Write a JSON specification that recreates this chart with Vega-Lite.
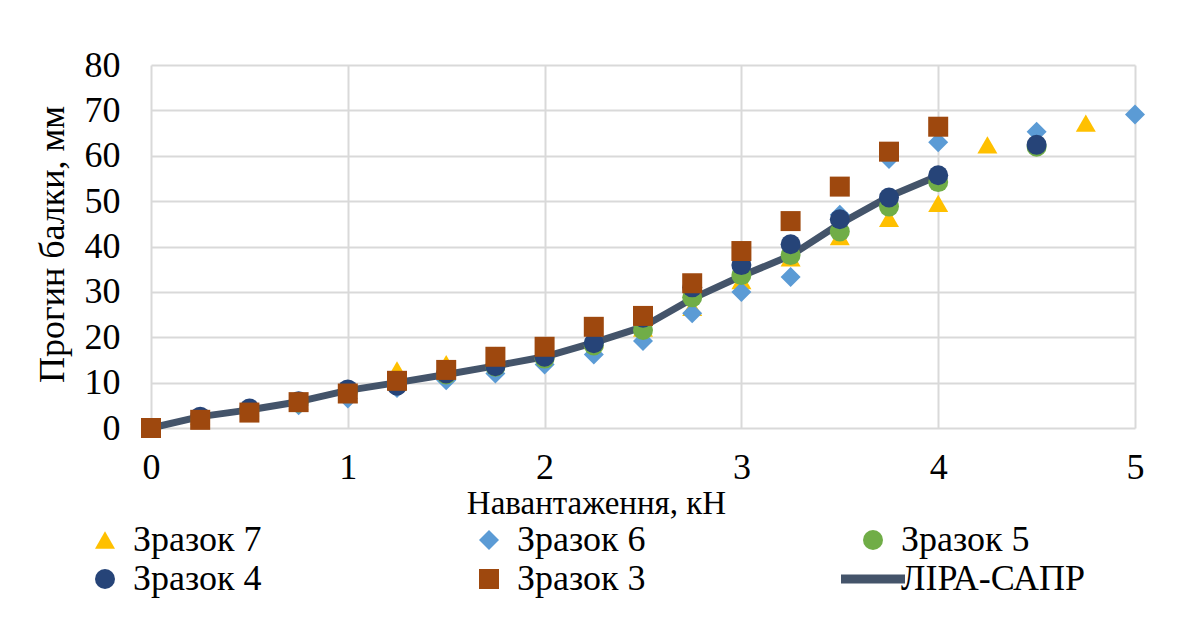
{
  "$schema": "https://vega.github.io/schema/vega-lite/v6.json",
  "width": 984,
  "height": 363,
  "autosize": {"type": "none"},
  "padding": {"left": 151, "top": 65, "right": 64, "bottom": 203},
  "background": "white",
  "config": {
    "view": {"stroke": null},
    "font": "Liberation Serif",
    "axis": {"labelColor": "black", "titleColor": "black", "titleFontWeight": "normal", "gridColor": "#D9D9D9", "gridWidth": 2, "domain": false, "ticks": false, "labelFlush": false}
  },
  "datasets": {
    "pts": [
      {"x": 0, "y": 0, "series": "Зразок 7"},
      {"x": 0.25, "y": 2.6, "series": "Зразок 7"},
      {"x": 0.5, "y": 4.5, "series": "Зразок 7"},
      {"x": 0.75, "y": 6.0, "series": "Зразок 7"},
      {"x": 1, "y": 7.5, "series": "Зразок 7"},
      {"x": 1.25, "y": 12.8, "series": "Зразок 7"},
      {"x": 1.5, "y": 14.2, "series": "Зразок 7"},
      {"x": 1.75, "y": 16.0, "series": "Зразок 7"},
      {"x": 2, "y": 17.0, "series": "Зразок 7"},
      {"x": 2.25, "y": 19.5, "series": "Зразок 7"},
      {"x": 2.5, "y": 22.0, "series": "Зразок 7"},
      {"x": 2.75, "y": 26.6, "series": "Зразок 7"},
      {"x": 3, "y": 32.5, "series": "Зразок 7"},
      {"x": 3.25, "y": 37.5, "series": "Зразок 7"},
      {"x": 3.5, "y": 42.2, "series": "Зразок 7"},
      {"x": 3.75, "y": 46.2, "series": "Зразок 7"},
      {"x": 4, "y": 49.5, "series": "Зразок 7"},
      {"x": 4.25, "y": 62.4, "series": "Зразок 7"},
      {"x": 4.75, "y": 67.2, "series": "Зразок 7"},
      {"x": 0, "y": 0, "series": "Зразок 6"},
      {"x": 0.25, "y": 2.0, "series": "Зразок 6"},
      {"x": 0.5, "y": 3.5, "series": "Зразок 6"},
      {"x": 0.75, "y": 5.0, "series": "Зразок 6"},
      {"x": 1, "y": 6.5, "series": "Зразок 6"},
      {"x": 1.25, "y": 8.8, "series": "Зразок 6"},
      {"x": 1.5, "y": 10.5, "series": "Зразок 6"},
      {"x": 1.75, "y": 12.0, "series": "Зразок 6"},
      {"x": 2, "y": 14.0, "series": "Зразок 6"},
      {"x": 2.25, "y": 16.2, "series": "Зразок 6"},
      {"x": 2.5, "y": 19.2, "series": "Зразок 6"},
      {"x": 2.75, "y": 25.3, "series": "Зразок 6"},
      {"x": 3, "y": 30.0, "series": "Зразок 6"},
      {"x": 3.25, "y": 33.3, "series": "Зразок 6"},
      {"x": 3.5, "y": 47.0, "series": "Зразок 6"},
      {"x": 3.75, "y": 59.3, "series": "Зразок 6"},
      {"x": 4, "y": 63.0, "series": "Зразок 6"},
      {"x": 4.5, "y": 65.3, "series": "Зразок 6"},
      {"x": 5, "y": 69.1, "series": "Зразок 6"},
      {"x": 0, "y": 0, "series": "Зразок 5"},
      {"x": 0.25, "y": 2.2, "series": "Зразок 5"},
      {"x": 0.5, "y": 4.0, "series": "Зразок 5"},
      {"x": 0.75, "y": 5.6, "series": "Зразок 5"},
      {"x": 1, "y": 8.0, "series": "Зразок 5"},
      {"x": 1.25, "y": 9.5, "series": "Зразок 5"},
      {"x": 1.5, "y": 11.8, "series": "Зразок 5"},
      {"x": 1.75, "y": 13.5, "series": "Зразок 5"},
      {"x": 2, "y": 15.3, "series": "Зразок 5"},
      {"x": 2.25, "y": 18.2, "series": "Зразок 5"},
      {"x": 2.5, "y": 21.6, "series": "Зразок 5"},
      {"x": 2.75, "y": 28.8, "series": "Зразок 5"},
      {"x": 3, "y": 33.7, "series": "Зразок 5"},
      {"x": 3.25, "y": 38.1, "series": "Зразок 5"},
      {"x": 3.5, "y": 43.3, "series": "Зразок 5"},
      {"x": 3.75, "y": 48.8, "series": "Зразок 5"},
      {"x": 4, "y": 54.2, "series": "Зразок 5"},
      {"x": 4.5, "y": 62.0, "series": "Зразок 5"},
      {"x": 0, "y": 0, "series": "Зразок 4"},
      {"x": 0.25, "y": 2.5, "series": "Зразок 4"},
      {"x": 0.5, "y": 4.3, "series": "Зразок 4"},
      {"x": 0.75, "y": 5.9, "series": "Зразок 4"},
      {"x": 1, "y": 8.5, "series": "Зразок 4"},
      {"x": 1.25, "y": 9.3, "series": "Зразок 4"},
      {"x": 1.5, "y": 12.0, "series": "Зразок 4"},
      {"x": 1.75, "y": 13.6, "series": "Зразок 4"},
      {"x": 2, "y": 15.7, "series": "Зразок 4"},
      {"x": 2.25, "y": 18.7, "series": "Зразок 4"},
      {"x": 2.5, "y": 24.3, "series": "Зразок 4"},
      {"x": 2.75, "y": 31.0, "series": "Зразок 4"},
      {"x": 3, "y": 35.9, "series": "Зразок 4"},
      {"x": 3.25, "y": 40.5, "series": "Зразок 4"},
      {"x": 3.5, "y": 46.0, "series": "Зразок 4"},
      {"x": 3.75, "y": 50.8, "series": "Зразок 4"},
      {"x": 4, "y": 55.7, "series": "Зразок 4"},
      {"x": 4.5, "y": 62.4, "series": "Зразок 4"},
      {"x": 0, "y": 0, "series": "Зразок 3"},
      {"x": 0.25, "y": 1.8, "series": "Зразок 3"},
      {"x": 0.5, "y": 3.4, "series": "Зразок 3"},
      {"x": 0.75, "y": 5.7, "series": "Зразок 3"},
      {"x": 1, "y": 7.6, "series": "Зразок 3"},
      {"x": 1.25, "y": 10.4, "series": "Зразок 3"},
      {"x": 1.5, "y": 12.8, "series": "Зразок 3"},
      {"x": 1.75, "y": 15.7, "series": "Зразок 3"},
      {"x": 2, "y": 17.9, "series": "Зразок 3"},
      {"x": 2.25, "y": 22.3, "series": "Зразок 3"},
      {"x": 2.5, "y": 24.7, "series": "Зразок 3"},
      {"x": 2.75, "y": 31.9, "series": "Зразок 3"},
      {"x": 3, "y": 39.0, "series": "Зразок 3"},
      {"x": 3.25, "y": 45.6, "series": "Зразок 3"},
      {"x": 3.5, "y": 53.2, "series": "Зразок 3"},
      {"x": 3.75, "y": 60.9, "series": "Зразок 3"},
      {"x": 4, "y": 66.4, "series": "Зразок 3"}
    ],
    "lira": [
      {"x": 0, "y": 0},
      {"x": 0.25, "y": 2.5},
      {"x": 0.5, "y": 4.0},
      {"x": 0.75, "y": 5.8},
      {"x": 1, "y": 8.3},
      {"x": 1.25, "y": 10.0},
      {"x": 1.5, "y": 11.8},
      {"x": 1.75, "y": 13.7},
      {"x": 2, "y": 15.7},
      {"x": 2.25, "y": 18.8},
      {"x": 2.5, "y": 22.3},
      {"x": 2.75, "y": 28.5},
      {"x": 3, "y": 33.5},
      {"x": 3.25, "y": 38.0},
      {"x": 3.5, "y": 45.0},
      {"x": 3.75, "y": 51.0},
      {"x": 4, "y": 55.6}
    ]
  },
  "encoding": {
    "x": {"field": "x", "type": "quantitative",
      "scale": {"domain": [0, 5], "nice": false, "zero": false},
      "axis": {"values": [0, 1, 2, 3, 4, 5], "labelFont": "Liberation Serif", "titleFont": "Liberation Serif", "labelFontSize": 36, "labelPadding": 22, "title": "Навантаження, кН", "titleFontSize": 33, "titleX": 445, "titleY": 75, "titleBaseline": "middle", "titleAnchor": null, "titleAlign": "center"}},
    "y": {"field": "y", "type": "quantitative",
      "scale": {"domain": [0, 80], "nice": false},
      "axis": {"values": [0, 10, 20, 30, 40, 50, 60, 70, 80], "labelFont": "Liberation Serif", "titleFont": "Liberation Serif", "labelFontSize": 36, "labelPadding": 31, "title": "Прогин балки, мм", "titleFontSize": 36, "titleX": -99, "titleY": 179, "titleBaseline": "middle", "titleAlign": "center", "titleAnchor": null}}
  },
  "layer": [
    {
      "data": {"name": "lira"},
      "mark": {"type": "line", "color": "#44546A", "strokeWidth": 7, "strokeJoin": "round", "strokeCap": "round"},
      "encoding": {}
    },
    {
      "data": {"name": "pts"},
      "mark": {"type": "point", "filled": true, "opacity": 1},
      "encoding": {
        "color": {"field": "series", "type": "nominal",
          "scale": {"domain": ["Зразок 7", "Зразок 4", "Зразок 6", "Зразок 3", "Зразок 5", "ЛІРА-САПР"],
                    "range": ["#FFC000", "#264478", "#5B9BD5", "#9E480E", "#70AD47", "#44546A"]},
          "legend": {"orient": "none", "legendX": -64, "legendY": 457, "columns": 3, "title": null, "labelFont": "Liberation Serif", "gridAlign": "all",
            "labelFontSize": 36, "labelColor": "black", "symbolOpacity": 1, "labelOffset": 10, "columnPadding": 136, "rowPadding": 3, "labelLimit": 400, "padding": 0}},
        "shape": {"field": "series", "type": "nominal",
          "scale": {"domain": ["Зразок 7", "Зразок 4", "Зразок 6", "Зразок 3", "Зразок 5", "ЛІРА-САПР"],
                    "range": ["triangle-up", "circle", "diamond", "square", "circle", "M-3.2,-0.44H3.2V0.44H-3.2Z"]}},
        "size": {"field": "series", "type": "nominal",
          "scale": {"domain": ["Зразок 7", "Зразок 4", "Зразок 6", "Зразок 3", "Зразок 5", "ЛІРА-САПР"],
                    "range": [400, 400, 400, 330, 270, 330]}}
      }
    }
  ]
}
